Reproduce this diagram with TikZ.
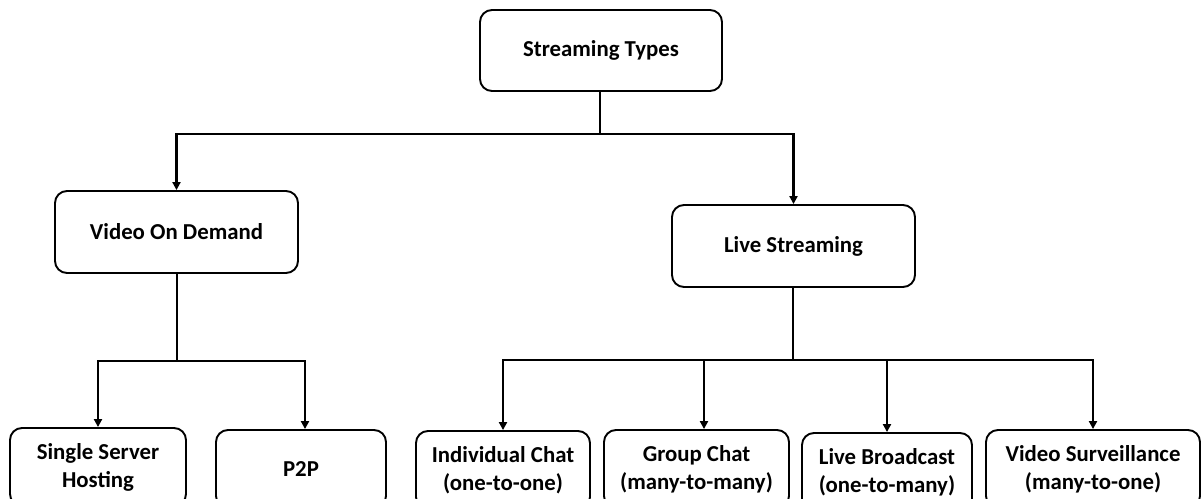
\documentclass[tikz,border=0pt]{standalone}
\usepackage{fontspec}
\setmainfont{Carlito}
\usetikzlibrary{arrows.meta}
\begin{document}
\begin{tikzpicture}[x=1pt,y=-1pt,
  box/.style={draw=black, line width=1.9pt, rounded corners=12pt, fill=white,
    font=\bfseries\fontsize{22.8}{28}\selectfont, align=center, inner sep=0pt},
  leaf/.style={box, minimum height=78pt},
  conn/.style={line width=2.1pt, draw=black},
  arr/.style={conn, -{Triangle[length=8pt,width=8pt]}}]
\clip (0,0) rectangle (1201,498);
\fill[white] (0,0) rectangle (1201,498);
% nodes
\node[box, minimum width=242pt, minimum height=81pt] (top) at (601,50.5) {Streaming Types};
\node[box, minimum width=243pt, minimum height=82pt] (vod) at (176.5,232) {Video On Demand};
\node[box, minimum width=243pt, minimum height=82pt] (ls) at (793.5,246) {Live Streaming};
\node[leaf, minimum width=176pt] (ssh) at (98,467) {Single Server\\Hosting};
\node[leaf, minimum width=170pt] (p2p) at (301,469) {P2P};
\node[leaf, minimum width=174pt] (ic) at (503,470) {Individual Chat\\(one-to-one)};
\node[leaf, minimum width=185pt] (gc) at (696.5,469) {Group Chat\\(many-to-many)};
\node[leaf, minimum width=170pt] (lb) at (887,472) {Live Broadcast\\(one-to-many)};
\node[leaf, minimum width=214pt] (vs) at (1093,469) {Video Surveillance\\(many-to-one)};
% junctions
\coordinate (j1) at (600,134);
\coordinate (j2) at (177,361);
\coordinate (j3) at (793,360);
\coordinate (a2) at (305,361);
\coordinate (a4) at (704,360);
% connectors
\draw[conn] (top.south -| j1) -- (j1);
\draw[arr] (j1) -| (vod.north);
\draw[arr] (j1) -| (ls.north);
\draw[conn] (vod.south -| j2) -- (j2);
\draw[arr] (j2) -| (ssh.north);
\draw[arr] (j2) -- (a2) -- (a2 |- p2p.north);
\draw[conn] (ls.south -| j3) -- (j3);
\draw[arr] (j3) -| (ic.north);
\draw[arr] (a4) -- (a4 |- gc.north);
\draw[arr] (j3) -| (lb.north);
\draw[arr] (j3) -| (vs.north);
\end{tikzpicture}
\end{document}
